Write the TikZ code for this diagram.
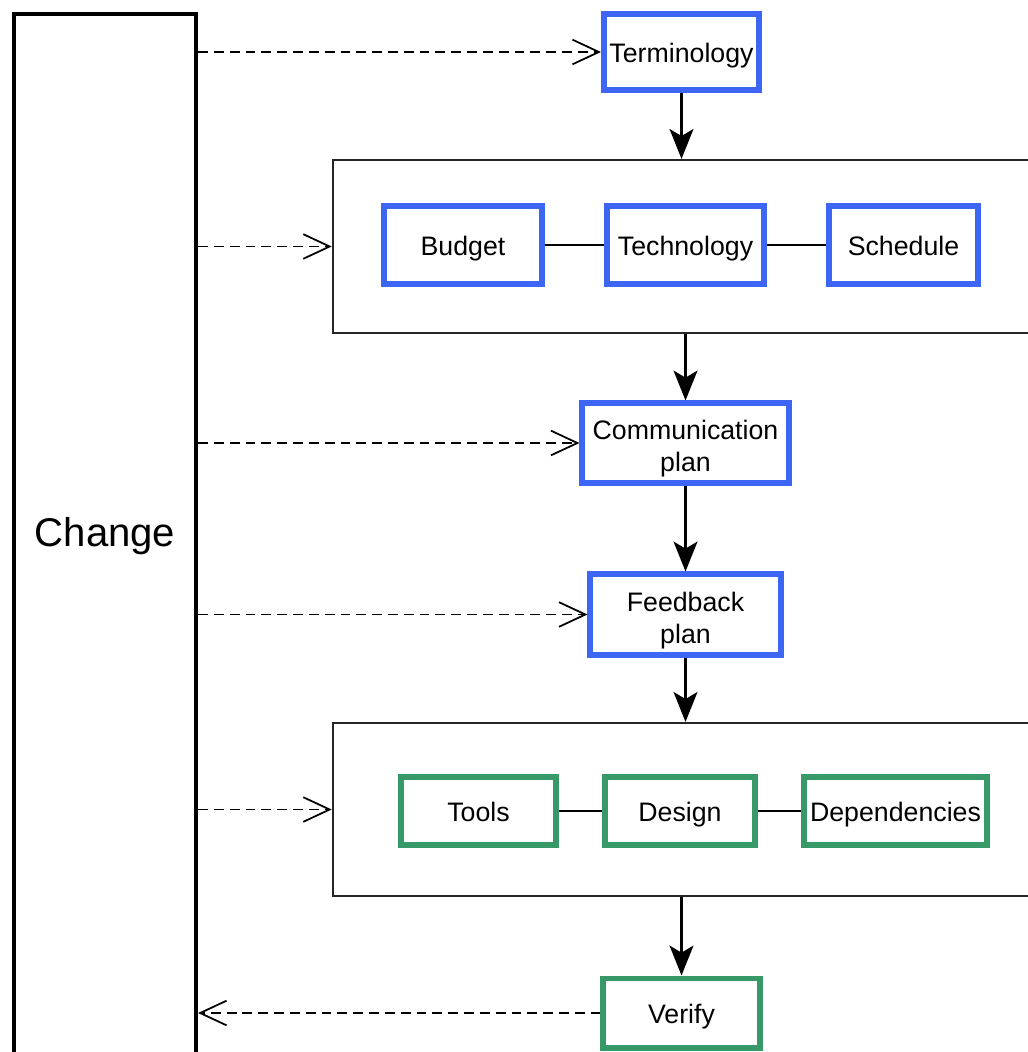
\documentclass[tikz,border=0pt]{standalone}
\usepackage{fontspec}
\setmainfont{Liberation Sans}
\usetikzlibrary{arrows.meta}
\definecolor{bblue}{RGB}{61,102,245}
\definecolor{bgreen}{RGB}{56,153,104}
\begin{document}
\begin{tikzpicture}[x={(0.01cm,0)},y={(0,-0.01cm)},
  every node/.style={inner sep=0pt,align=center,font=\fontsize{7.6}{9.1}\selectfont,text height=6pt,text depth=0pt},
  twoline/.style={text height=16.4pt,text depth=0pt},
  bluebox/.style={draw=bblue,line width=1.7pt,fill=white},
  greenbox/.style={draw=bgreen,line width=1.7pt,fill=white},
  container/.style={draw=black!85,line width=0.6pt,fill=white},
  changebox/.style={draw=black,line width=1.15pt,fill=white},
  flow/.style={-{Stealth[length=8.5pt,width=6.8pt,inset=2pt]},line width=0.6pt},
  dasharrow/.style={-{Straight Barb[length=7.5pt,width=7pt,line width=0.5pt]},line width=0.5pt,dash pattern=on 2.8pt off 1.7pt},
  link/.style={line width=0.5pt}]
\useasboundingbox (0,0) rectangle (1028,1052);
\clip (0,0) rectangle (1028,1052);
\fill[white] (0,0) rectangle (1028,1052);
% Change
\node[changebox,minimum width=1.82cm,minimum height=10.42cm,font=\fontsize{11.4}{13}\selectfont,text height=8.3pt,text depth=2pt] (change) at (105,535) {Change};
% containers
\node[container,minimum width=7.07cm,minimum height=1.73cm] (cont1) at (686.5,246.5) {};
\node[container,minimum width=7.07cm,minimum height=1.73cm] (cont2) at (686.5,809.5) {};
% blue boxes
\node[bluebox,minimum width=1.55cm,minimum height=0.76cm] (term) at (681.5,52) {Terminology};
\node[bluebox,minimum width=1.57cm,minimum height=0.77cm] (budget) at (463,245) {Budget};
\node[bluebox,minimum width=1.56cm,minimum height=0.77cm] (tech) at (685.5,245) {Technology};
\node[bluebox,minimum width=1.48cm,minimum height=0.77cm] (sched) at (903.5,245) {Schedule};
\node[bluebox,twoline,minimum width=2.06cm,minimum height=0.79cm] (comm) at (685.5,443) {Communication\\plan};
\node[bluebox,twoline,minimum width=1.90cm,minimum height=0.80cm] (feed) at (685.5,614.5) {Feedback\\plan};
% green boxes
\node[greenbox,minimum width=1.54cm,minimum height=0.68cm] (tools) at (478.5,811) {Tools};
\node[greenbox,minimum width=1.49cm,minimum height=0.68cm] (design) at (680,811) {Design};
\node[greenbox,minimum width=1.82cm,minimum height=0.68cm] (dep) at (895.5,811) {Dependencies};
\node[greenbox,minimum width=1.56cm,minimum height=0.69cm] (verify) at (681.5,1013) {Verify};
% links inside containers
\draw[link] (budget.east) -- (tech.west);
\draw[link] (tech.east) -- (sched.west);
\draw[link] (tools.east) -- (design.west);
\draw[link] (design.east) -- (dep.west);
% flow arrows
\draw[flow] (term.south) -- (term.south |- cont1.north);
\draw[flow] (comm.north |- cont1.south) -- (comm.north);
\draw[flow] (comm.south) -- (feed.north);
\draw[flow] (feed.south) -- (feed.south |- cont2.north);
\draw[flow] (verify.north |- cont2.south) -- (verify.north);
% dashed arrows
\draw[dasharrow] (change.east |- term.west) -- (term.west);
\draw[dasharrow] (change.east |- cont1.west) -- (cont1.west);
\draw[dasharrow] (change.east |- comm.west) -- (comm.west);
\draw[dasharrow] (change.east |- feed.west) -- (feed.west);
\draw[dasharrow] (change.east |- cont2.west) -- (cont2.west);
\draw[dasharrow] (verify.west) -- (verify.west -| change.east);
\end{tikzpicture}
\end{document}
